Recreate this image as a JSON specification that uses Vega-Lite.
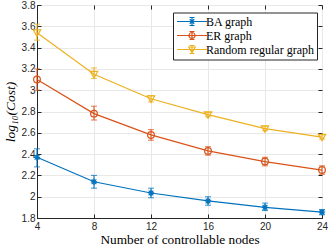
{
  "$schema": "https://vega.github.io/schema/vega-lite/v6.json",
  "width": 285,
  "height": 213,
  "autosize": {"type": "none"},
  "padding": {"left": 37, "top": 5, "right": 10, "bottom": 31},
  "background": "white",
  "config": {
    "view": {"stroke": "#262626", "strokeWidth": 1},
    "axis": {
      "domainColor": "#262626",
      "tickColor": "#262626",
      "gridColor": "#e8e8e8",
      "labelFont": "Liberation Sans",
      "labelFontSize": 10,
      "labelColor": "#262626",
      "titleFont": "Liberation Serif",
      "titleFontSize": 13.3,
      "titleFontWeight": "normal",
      "titleColor": "#000000",
      "tickSize": -4,
      "labelOverlap": false,
      "labelBound": false,
      "labelFlush": false
    }
  },
  "resolve": {"axis": {"x": "independent", "y": "independent"}},
  "data": {
    "values": [
      {"s": "BA graph", "x": 4, "y": 2.37, "lo": 2.28, "hi": 2.45},
      {"s": "BA graph", "x": 8, "y": 2.14, "lo": 2.08, "hi": 2.20},
      {"s": "BA graph", "x": 12, "y": 2.035, "lo": 1.99, "hi": 2.08},
      {"s": "BA graph", "x": 16, "y": 1.96, "lo": 1.92, "hi": 2.00},
      {"s": "BA graph", "x": 20, "y": 1.90, "lo": 1.87, "hi": 1.94},
      {"s": "BA graph", "x": 24, "y": 1.855, "lo": 1.83, "hi": 1.88},
      {"s": "ER graph", "x": 4, "y": 3.10, "lo": 3.00, "hi": 3.20},
      {"s": "ER graph", "x": 8, "y": 2.78, "lo": 2.72, "hi": 2.85},
      {"s": "ER graph", "x": 12, "y": 2.58, "lo": 2.53, "hi": 2.63},
      {"s": "ER graph", "x": 16, "y": 2.43, "lo": 2.39, "hi": 2.47},
      {"s": "ER graph", "x": 20, "y": 2.33, "lo": 2.29, "hi": 2.37},
      {"s": "ER graph", "x": 24, "y": 2.25, "lo": 2.21, "hi": 2.29},
      {"s": "Random regular graph", "x": 4, "y": 3.54, "lo": 3.47, "hi": 3.62},
      {"s": "Random regular graph", "x": 8, "y": 3.15, "lo": 3.11, "hi": 3.21},
      {"s": "Random regular graph", "x": 12, "y": 2.92, "lo": 2.89, "hi": 2.95},
      {"s": "Random regular graph", "x": 16, "y": 2.77, "lo": 2.75, "hi": 2.79},
      {"s": "Random regular graph", "x": 20, "y": 2.64, "lo": 2.62, "hi": 2.66},
      {"s": "Random regular graph", "x": 24, "y": 2.56, "lo": 2.54, "hi": 2.58}
    ]
  },
  "encoding": {
    "color": {
      "field": "s", "type": "nominal",
      "scale": {"domain": ["BA graph", "ER graph", "Random regular graph"], "range": ["#0072BD", "#D95319", "#EDB120"]},
      "legend": {
        "title": null,
        "orient": "none",
        "legendX": 136,
        "legendY": 7.5,
        "fillColor": "white",
        "strokeColor": "#262626",
        "padding": 3,
        "rowPadding": 0,
        "labelFont": "Liberation Serif",
        "labelFontSize": 12,
        "labelColor": "#000000",
        "labelOffset": 8,
        "symbolOffset": 10,
        "symbolSize": 100,
        "symbolStrokeWidth": 1.2,
        "symbolFillColor": "transparent",
        "symbolType": "M-3,0H3M0,-0.8V0.8M-0.5,-0.8H0.5M-0.5,0.8H0.5",
        "encode": {
          "symbols": {
            "update": {
              "shape": {"signal": "datum.value === 'BA graph' ? 'M-3,0H3M0,-0.8V0.8M-0.5,-0.8H0.5M-0.5,0.8H0.5M-0.6,0H0.6M0,-0.6V0.6M-0.45,-0.45L0.45,0.45M-0.45,0.45L0.45,-0.45' : datum.value === 'ER graph' ? 'M-3,0H3M0,-0.8V0.8M-0.5,-0.8H0.5M-0.5,0.8H0.5M0.6,0A0.6,0.6,0,1,1,-0.6,0A0.6,0.6,0,1,1,0.6,0Z' : 'M-3,0H3M0,-0.8V0.8M-0.5,-0.8H0.5M-0.5,0.8H0.5M-0.65,-0.5L0.65,-0.5L0,0.65Z'"},
              "fill": {"value": "transparent"},
              "fillOpacity": {"value": 0}
            }
          }
        }
      }
    }
  },
  "layer": [
    {
      "mark": {"type": "errorbar", "ticks": {"size": 6}, "thickness": 1.1},
      "encoding": {
        "x": {
          "field": "x", "type": "quantitative",
          "scale": {"domain": [4, 24], "nice": false},
          "axis": {"values": [4, 8, 12, 16, 20, 24], "title": "Number of controllable nodes", "titlePadding": 1, "labelPadding": 7}
        },
        "y": {
          "field": "lo", "type": "quantitative",
          "scale": {"domain": [1.8, 3.8], "nice": false, "zero": false},
          "axis": {"values": [1.8, 2, 2.2, 2.4, 2.6, 2.8, 3, 3.2, 3.4, 3.6, 3.8], "format": ".1~f", "title": "log₁₀(Cost)", "titleFontStyle": "italic", "titleFontSize": 13.5, "titlePadding": 4, "labelPadding": 6}
        },
        "y2": {"field": "hi"}
      }
    },
    {
      "mark": {"type": "line", "strokeWidth": 1.2},
      "encoding": {
        "x": {
          "field": "x", "type": "quantitative",
          "axis": {"orient": "top", "values": [4, 8, 12, 16, 20, 24], "labels": false, "title": null, "grid": false, "domain": false}
        },
        "y": {
          "field": "y", "type": "quantitative",
          "axis": {"orient": "right", "values": [1.8, 2, 2.2, 2.4, 2.6, 2.8, 3, 3.2, 3.4, 3.6, 3.8], "labels": false, "title": null, "grid": false, "domain": false}
        }
      }
    },
    {
      "transform": [{"filter": "datum.s === 'BA graph'"}],
      "mark": {"type": "point", "filled": false, "strokeWidth": 1.2, "opacity": 1, "size": 40, "shape": "M-1,0H1M0,-1V1M-0.75,-0.75L0.75,0.75M-0.75,0.75L0.75,-0.75"},
      "encoding": {
        "x": {"field": "x", "type": "quantitative", "axis": null},
        "y": {"field": "y", "type": "quantitative", "axis": null}
      }
    },
    {
      "transform": [{"filter": "datum.s === 'ER graph'"}],
      "mark": {"type": "point", "filled": false, "strokeWidth": 1.2, "opacity": 1, "size": 45, "shape": "circle"},
      "encoding": {
        "x": {"field": "x", "type": "quantitative", "axis": null},
        "y": {"field": "y", "type": "quantitative", "axis": null}
      }
    },
    {
      "transform": [{"filter": "datum.s === 'Random regular graph'"}],
      "mark": {"type": "point", "filled": false, "strokeWidth": 1.2, "opacity": 1, "size": 55, "shape": "M-1,-0.75L1,-0.75L0,1Z"},
      "encoding": {
        "x": {"field": "x", "type": "quantitative", "axis": null},
        "y": {"field": "y", "type": "quantitative", "axis": null}
      }
    }
  ]
}
